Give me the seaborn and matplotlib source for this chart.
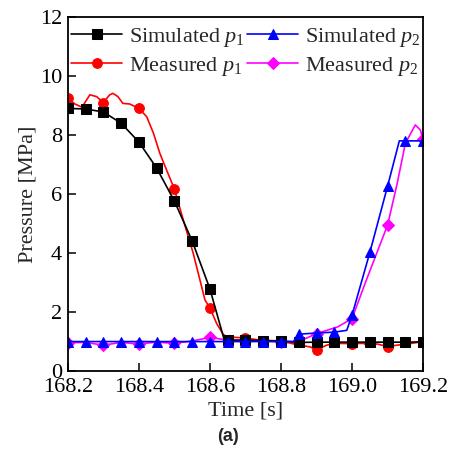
import numpy as np
import pandas as pd
import matplotlib
matplotlib.use('Agg')
import matplotlib.pyplot as plt
import seaborn as sns

# Simulated p1 (black squares every 0.05 s, one extra kink point)
sim1_t = [168.2, 168.25, 168.3, 168.35, 168.4, 168.45, 168.5, 168.55, 168.6, 168.64,
          168.65, 168.7, 168.75, 168.8, 168.85, 168.9, 168.95, 169.0, 169.05, 169.1,
          169.15, 169.2]
sim1_p = [8.9, 8.88, 8.78, 8.4, 7.76, 6.88, 5.76, 4.41, 2.78, 1.07,
          1.05, 1.05, 1.03, 1.02, 0.97, 0.98, 0.98, 0.98, 0.98, 0.98,
          0.98, 0.99]

# Simulated p2 (blue triangles every 0.05 s)
sim2_t = [168.2, 168.25, 168.3, 168.35, 168.4, 168.45, 168.5, 168.55, 168.6, 168.65,
          168.7, 168.75, 168.8, 168.835, 168.85, 168.9, 168.95, 168.985, 169.0, 169.05,
          169.1, 169.133, 169.15, 169.2]
sim2_p = [1.0, 1.0, 1.0, 1.0, 1.0, 1.0, 1.0, 1.0, 1.0, 1.0,
          1.0, 1.0, 1.0, 1.0, 1.25, 1.29, 1.32, 1.38, 1.9, 4.02,
          6.27, 7.8, 7.8, 7.8]

# Measured p1 (red circles every 0.1 s)
meas1_t = [168.2, 168.22, 168.24, 168.262, 168.281, 168.3, 168.318, 168.327, 168.341, 168.355,
           168.374, 168.4, 168.422, 168.441, 168.459, 168.478, 168.5, 168.525, 168.553, 168.586,
           168.6, 168.619, 168.637, 168.647, 168.7, 168.741, 168.8, 168.85, 168.882, 168.9,
           168.929, 168.957, 169.0, 169.032, 169.046, 169.07, 169.1, 169.128, 169.157, 169.2]
meas1_p = [9.24, 9.05, 8.94, 9.36, 9.3, 9.1, 9.36, 9.41, 9.3, 9.07,
           9.05, 8.9, 8.62, 8.06, 7.38, 6.81, 6.17, 5.12, 3.99, 2.41,
           2.14, 1.61, 1.25, 1.16, 1.12, 1.05, 1.02, 0.88, 0.82, 0.72,
           0.88, 0.94, 0.93, 0.94, 0.85, 0.92, 0.83, 0.88, 0.92, 1.0]

# Measured p2 (magenta diamonds every 0.1 s)
meas2_t = [168.2, 168.25, 168.3, 168.35, 168.4, 168.45, 168.5, 168.55, 168.6, 168.65,
           168.7, 168.75, 168.8, 168.85, 168.9, 168.96, 169.0, 169.04, 169.1, 169.127,
           169.15, 169.178, 169.192, 169.2]
meas2_p = [0.96, 0.97, 0.88, 0.97, 0.92, 0.98, 0.94, 1.02, 1.14, 1.05,
           1.03, 1.02, 1.0, 1.0, 1.27, 1.5, 1.78, 3.08, 4.95, 6.36,
           7.72, 8.34, 8.17, 7.85]

sim_marks = np.round(np.arange(168.2, 169.201, 0.05), 2)
meas_marks = np.round(np.arange(168.2, 169.201, 0.1), 2)

sns.set_style('ticks')
plt.rcParams['font.family'] = ['Liberation Serif', 'DejaVu Serif']
plt.rcParams['mathtext.fontset'] = 'custom'
plt.rcParams['mathtext.rm'] = 'Liberation Serif'
plt.rcParams['mathtext.it'] = 'Liberation Serif:italic'

fig = plt.figure(figsize=(4.55, 4.57), dpi=100)
ax = fig.add_axes([0.149, 0.188, 0.781, 0.775])


def draw(t, p, marks, color, marker, label, ms):
    t = np.asarray(t)
    every = list(np.where(np.isin(np.round(t, 3), marks))[0])
    sns.lineplot(x=t, y=p, ax=ax, color=color, marker=marker, markevery=every,
                 markersize=ms, markeredgecolor=color, markerfacecolor=color,
                 linewidth=1.2, label=label, sort=False, estimator=None)


draw(meas1_t, meas1_p, meas_marks, '#ff0000', 'o', 'Measured $p_1$', 7)
draw(meas2_t, meas2_p, meas_marks, '#ff00ff', 'D', 'Measured $p_2$', 6)
draw(sim1_t, sim1_p, sim_marks, '#000000', 's', 'Simulated $p_1$', 6.5)
draw(sim2_t, sim2_p, sim_marks, '#0000ff', '^', 'Simulated $p_2$', 7)

ax.set_xlim(168.2, 169.2)
ax.set_ylim(0, 12)
ax.set_xticks([168.2, 168.4, 168.6, 168.8, 169.0, 169.2])
ax.set_xticklabels(['168.2', '168.4', '168.6', '168.8', '169.0', '169.2'])
ax.set_yticks([0, 2, 4, 6, 8, 10, 12])
ax.tick_params(direction='in', length=6, width=1.1, labelsize=16, colors='black',
               top=False, right=False)
ax.tick_params(axis='x', pad=5)
ax.tick_params(axis='y', pad=4)
for s in ax.spines.values():
    s.set_visible(True)
    s.set_linewidth(1.3)
    s.set_color('black')

ax.set_xlabel('Time [s]', fontsize=16, labelpad=3)
ax.set_ylabel('Pressure [MPa]', fontsize=16, labelpad=2)

h, l = ax.get_legend_handles_labels()
order = [2, 0, 3, 1]
ax.legend([h[i] for i in order], [l[i] for i in order], ncol=2, loc='upper left',
          bbox_to_anchor=(0.0, 0.985), frameon=False, fontsize=16,
          handlelength=2.3, handletextpad=0.3, columnspacing=0.1,
          borderaxespad=0.0, borderpad=0.15, labelspacing=0.28)

fig.text(0.5, 0.045, '(a)', ha='center', va='center', fontsize=13,
         fontweight='bold', family='Liberation Sans')

fig.savefig('out.png', dpi=100)
